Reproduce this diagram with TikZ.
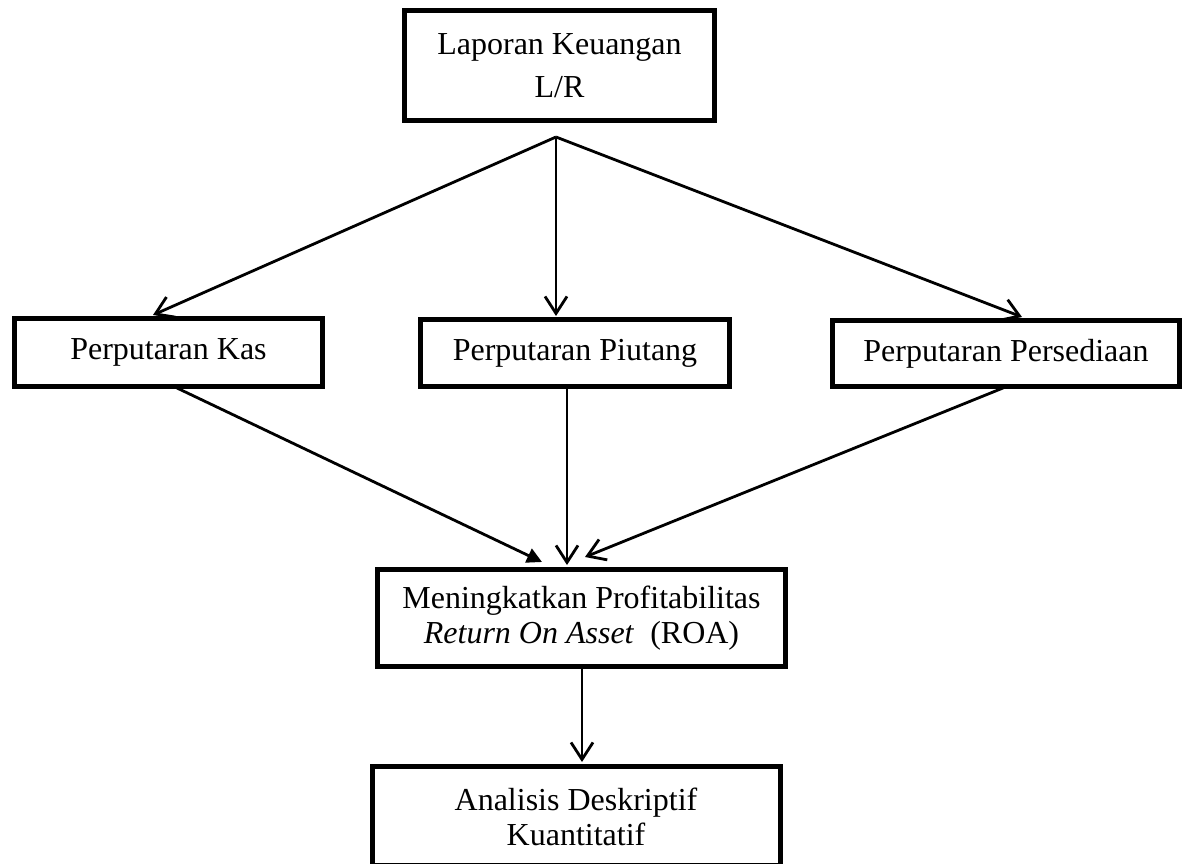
\documentclass[tikz,border=0pt]{standalone}
\usepackage{fontspec}
\setmainfont{Liberation Serif}
\usetikzlibrary{arrows.meta}
\begin{document}
\begin{tikzpicture}[x=1pt,y=-1pt,
  box/.style={draw,line width=5pt,inner sep=0pt,align=center,font=\fontsize{32}{34}\selectfont},
  conn/.style={line width=2.8pt},
  openarr/.style={conn,-{Straight Barb[length=17pt,width=22pt,line width=2.8pt]}},
  fillarr/.style={conn,-{Triangle[length=15pt,width=15pt]}}]
\useasboundingbox (0,0) rectangle (1191,864);
\fill[white] (0,0) rectangle (1191,864);
% boxes
\node[box,minimum width=310pt,minimum height=110pt,font=\fontsize{32}{43}\selectfont] (lap) at (559.5,65.5) {Laporan Keuangan\\L/R};
\node[box,minimum width=308pt,minimum height=68pt] (kas) at (168.5,352.5) {Perputaran Kas};
\node[box,minimum width=309pt,minimum height=67pt] (piu) at (575,353) {Perputaran Piutang};
\node[box,minimum width=347pt,minimum height=66pt] (per) at (1006,353.5) {Perputaran Persediaan};
\node[box,minimum width=408pt,minimum height=97pt,font=\fontsize{32}{35}\selectfont] (roa) at (581.5,618) {Meningkatkan Profitabilitas\\\textit{Return On Asset}\ \ (ROA)};
\node[draw,line width=5pt,inner sep=0pt,minimum width=408pt,minimum height=98.5pt] (ana) at (576,815.75) {};
\node[align=center,font=\fontsize{32}{35}\selectfont,inner sep=0pt] (anat) at (576,817) {Analisis Deskriptif\\Kuantitatif};
% connector coordinates
\coordinate (split) at (556,137);
\coordinate (kasin) at (153,315);
\coordinate (piuin) at (556,316);
\coordinate (perin) at (1022,317);
\coordinate (kasout) at (177,388);
\coordinate (piuout) at (567,388);
\coordinate (perout) at (1003,388);
\coordinate (roain1) at (542,562);
\coordinate (roain2) at (567,565);
\coordinate (roain3) at (585,557);
\coordinate (roaout) at (582,668);
\coordinate (anain) at (582,762);
% connectors
\draw[openarr] (split) -- (kasin);
\draw[openarr] (split) -- (piuin);
\draw[openarr] (split) -- (perin);
\draw[fillarr] (kasout) -- (roain1);
\draw[openarr] (piuout) -- (roain2);
\draw[openarr] (perout) -- (roain3);
\draw[openarr] (roaout) -- (anain);
\end{tikzpicture}
\end{document}
